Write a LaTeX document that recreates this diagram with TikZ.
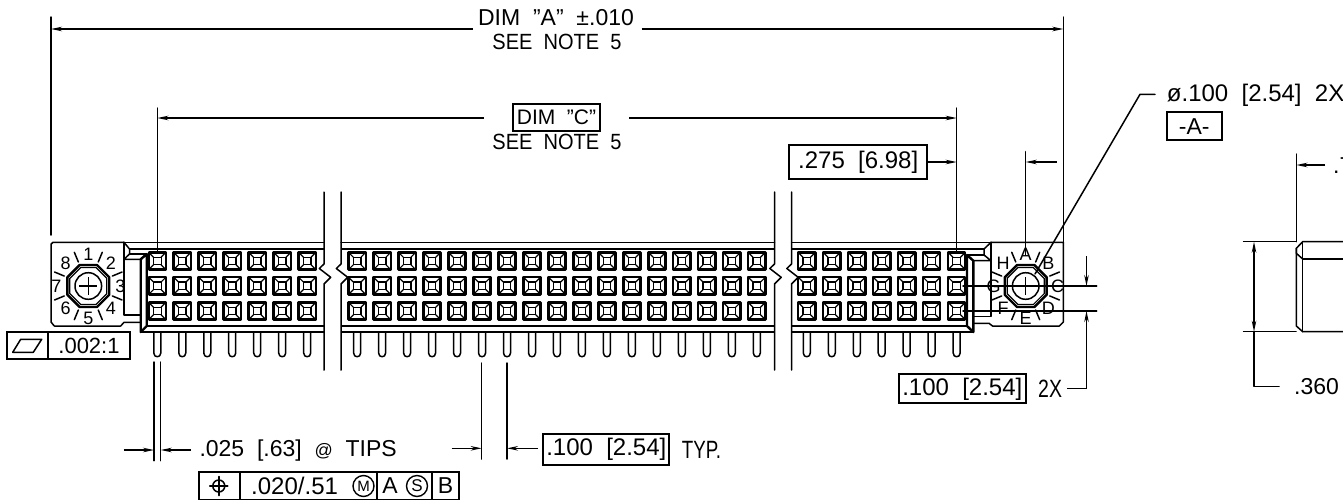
\documentclass[tikz,border=0pt]{standalone}
\usepackage{fontspec}
\setmainfont{Liberation Sans}
\usetikzlibrary{arrows.meta}
\newcommand{\fsize}[1]{\fontsize{#1}{#1}\selectfont}
\tikzset{
  line/.style={line width=1.5pt,line cap=round,line join=round},
  heavy/.style={line width=2.4pt,line join=round},
  fine/.style={line width=1.2pt},
  dimln/.style={line width=1.5pt,-{Stealth[length=11pt,width=4.5pt]}},
  dimtwo/.style={line width=1.5pt,{Stealth[length=11pt,width=4.5pt]}-{Stealth[length=11pt,width=4.5pt]}},
  txt/.style={inner sep=0pt,font=\fsize{23}},
  ring/.style={inner sep=0pt,font=\fsize{18}},
  frame/.style={draw,line width=1.8pt},
}
\newcommand{\fastener}[2]{%
  \foreach \a in {22.5,67.5,...,337.5}{
    \draw[line] ({#1+26*cos(\a)},{#2-26*sin(\a)}) -- ({#1+36.5*cos(\a)},{#2-36.5*sin(\a)});
  }
  \draw[heavy] ({#1+22.7*cos(22.5)},{#2-22.7*sin(22.5)})
    \foreach \a in {67.5,112.5,...,337.5}{ -- ({#1+22.7*cos(\a)},{#2-22.7*sin(\a)}) } -- cycle;
  \draw[fine] ({#1+20*cos(22.5)},{#2-20*sin(22.5)})
    \foreach \a in {67.5,112.5,...,337.5}{ -- ({#1+20*cos(\a)},{#2-20*sin(\a)}) } -- cycle;
  \draw[line] (#1,#2) circle[radius=13.3];
  \draw[fine] (#1-9,#2) -- (#1+9,#2) (#1,#2-9) -- (#1,#2+9);
}
\newcommand{\breakmark}[1]{%
  \draw[line] (#1,192) -- (#1,264) -- (#1-4.7,268.5) -- (#1+6.7,277.3) -- (#1,284) -- (#1,370);
}
\begin{document}
\begin{tikzpicture}[x=1pt,y=-1pt]
\useasboundingbox (0,0) rectangle (1343,501);
\clip (0,0) rectangle (1343,501);

% ---------- housing rails
\foreach \xa/\xb in {124/324,341/774.5,791.5/991}{
  \draw[line] (\xa,242.3) -- (\xb,242.3);
}
\foreach \xa/\xb in {129.5/324,341/774.5,791.5/984}{
  \draw[heavy] (\xa,249) -- (\xb,249);
}
\foreach \xa/\xb in {146.7/324,341/774.5,791.5/967}{
  \draw[heavy] (\xa,326) -- (\xb,326);
}
\foreach \xa/\xb in {140.7/324,341/774.5,791.5/973.3}{
  \draw[heavy] (\xa,332) -- (\xb,332);
}
% ---------- breaks
\breakmark{324}\breakmark{341}\breakmark{774.5}\breakmark{791.5}

% ---------- left flange
\draw[line] (124,242.3) -- (53,242.3) -- (51,244.3) -- (51,322) -- (54.3,326) -- (120.7,326) -- (124,322.3) -- (140.7,322.3);
\draw[line] (124,242.3) -- (124,315) -- (140.7,315);
\draw[line] (124,242.3) -- (129.5,249) -- (129.5,254) -- (124,259.3) -- (140.7,259.3);
\draw[line] (129.5,254) -- (147,254);
\draw[heavy] (140.7,259.3) -- (140.7,332) -- (146.7,326) -- (146.7,254) -- cycle;
\fastener{88.3}{286}
% ---------- right flange
\draw[line] (991,242.3) -- (1063.3,242.3) -- (1063.3,322) -- (1059.3,326) -- (992.5,326) -- (989,323.3) -- (973.3,323.3);
\draw[line] (991,242.3) -- (991,316.7) -- (973.3,316.7);
\draw[line] (991,242.3) -- (984,249) -- (984,255) -- (991,260.7) -- (973.3,260.7);
\draw[line] (984,255) -- (967,255);
\draw[heavy] (967,255) -- (967,326) -- (973.3,332) -- (973.3,260.7) -- cycle;
\fastener{1025.7}{286}

% ---------- sockets and pins
\foreach \c in {0,...,6,8,9,...,24,26,27,...,32}{
  \pgfmathsetmacro{\px}{157.3+24.98*\c}
  \foreach \py in {261,285.8,311}{
    \draw[heavy] (\px-8.6,\py-8.6) rectangle (\px+8.6,\py+8.6);
    \draw[fine] (\px-3.8,\py-3.8) rectangle (\px+3.8,\py+3.8);
    \draw[fine] (\px-8.6,\py-8.6) -- (\px-3.8,\py-3.8) (\px+8.6,\py-8.6) -- (\px+3.8,\py-3.8)
                (\px-8.6,\py+8.6) -- (\px-3.8,\py+3.8) (\px+8.6,\py+8.6) -- (\px+3.8,\py+3.8);
  }
  \draw[line] (\px-3.5,332) -- (\px-3.5,353) .. controls (\px-3.5,358) and (\px+3.5,358) .. (\px+3.5,353) -- (\px+3.5,332);
}

% ---------- ring labels
\foreach \t/\a in {1/90,2/45,3/0,4/-45,5/-90,6/-135,7/180,8/135}{
  \node[ring] (n\t) at ({88.3+32*cos(\a)},{286-32*sin(\a)}) {\t};
}
\foreach \t/\a in {A/90,B/45,C/0,D/-45,E/-90,F/-135,G/180,H/135}{
  \node[ring] (n\t) at ({1025.7+32*cos(\a)},{286-32*sin(\a)}) {\t};
}

% ---------- DIM A
\coordinate (aL) at (51,29); \coordinate (aR) at (1063.3,29);
\node[txt] (dimA) at (556,18) {DIM\ \ ”A”\ \ ±.010};
\node[txt,font=\fsize{22}] (noteA) at (557,42) {\scalebox{.91}[1]{SEE\ \ NOTE\ \ 5}};
\draw[line] (51,17) -- (51,235);
\draw[line] (1063.3,17) -- (1063.3,242.3);
\draw[dimln] (472.7,29) -- (aL);
\draw[dimln] (641.7,29) -- (aR);

% ---------- DIM C
\coordinate (cL) at (157.3,118); \coordinate (cR) at (956.7,118);
\node[frame,inner sep=0pt,minimum width=87pt,minimum height=27pt,font=\fsize{21}] (dimC) at (556.5,117.2) {DIM\ \ ”C”};
\node[txt,font=\fsize{22}] (noteC) at (557,141.5) {\scalebox{.91}[1]{SEE\ \ NOTE\ \ 5}};
\draw[line] (157.3,108) -- (157.3,252);
\draw[line] (956.7,108) -- (956.7,252);
\draw[dimln] (484,118) -- (cL);
\draw[dimln] (629,118) -- (cR);

% ---------- .275
\node[frame,inner sep=0pt,minimum width=138.3pt,minimum height=34pt,font=\fsize{24}] (d275) at (858.2,162) {.275\ \ [6.98]};
\coordinate (e275) at (956.7,162);
\draw[dimln] (d275.east) -- (e275);
\coordinate (e275b) at (1025.7,162);
\draw[line] (1025.7,151.7) -- (1025.7,255);
\draw[dimln] (1056.7,162) -- (e275b);

% ---------- datum leader
\node[txt,anchor=west,font=\fsize{24}] (dia) at (1166.7,95) {ø.100\ \ [2.54]\ \ 2X};
\node[frame,inner sep=0pt,minimum width=55.3pt,minimum height=28pt,font=\fsize{23}] (datA) at (1194.3,126.3) {-A-};
\draw[line] (1155,94.3) -- (1140,94.3) -- (1035,274);

% ---------- right pitch dimension
\draw[line] (963,286) -- (1096.7,286);
\draw[line] (963,311) -- (1096.7,311);
\coordinate (p1) at (1086.5,286); \coordinate (p2) at (1086.5,311);
\draw[dimln] (1086.5,256) -- (p1);
\node[frame,inner sep=0pt,minimum width=126.7pt,minimum height=29pt,font=\fsize{24}] (d100r) at (962.3,388.8) {.100\ \ [2.54]};
\node[txt,anchor=west,font=\fsize{25}] (twoX) at (1038,389) {\scalebox{.78}[1]{2X}};
\draw[dimln] (1067.3,388.7) -- (1086.5,388.7) -- (p2);

% ---------- side view
\draw[line] (1243.5,241.7) -- (1296,241.7);
\draw[line] (1243.5,331.7) -- (1296,331.7);
\draw[line] (1296.3,154) -- (1296.3,241.7);
\coordinate (s7) at (1296.3,165);
\draw[dimln] (1325,165) -- (s7);
\node[txt,anchor=west] (t7) at (1333,166) {.7};
\coordinate (v1) at (1254,241.7); \coordinate (v2) at (1254,331.7);
\draw[dimtwo] (v1) -- (v2);
\draw[line] (1254,331.7) -- (1254,386.7) -- (1279,386.7);
\node[txt,anchor=west] (t360) at (1294,386.5) {.360};
\draw[line] (1343,241.7) -- (1302.7,241.7) -- (1296.3,248.3) -- (1296.3,253.3) -- (1302.7,259);
\draw[line] (1296.3,248.3) -- (1296.3,326) -- (1302.7,331.7) -- (1343,331.7);
\draw[line] (1302.7,241.7) -- (1302.7,331.7);
\draw[line] (1302.7,259) -- (1343,259);

% ---------- flatness frame
\draw[frame] (6.7,331.7) rectangle (130,359.3);
\draw[frame] (47.7,331.7) -- (47.7,359.3);
\draw[line] (12.7,352.3) -- (33.3,352.3) -- (41.7,339.3) -- (20.7,339.3) -- cycle;
\node[txt,font=\fsize{22}] (flat) at (89,345.7) {.002:1};

% ---------- pin width
\draw[line] (154,362) -- (154,460.7);
\draw[line] (160.7,362) -- (160.7,460.7);
\coordinate (w1) at (154,450); \coordinate (w2) at (160.7,450);
\draw[dimln] (123.7,450) -- (w1);
\draw[dimln] (191,450) -- (w2);
\node[txt,anchor=west] (t025) at (199.3,451) {.025\ \ [.63]\ \ {\fsize{18}@}\ \ TIPS};

% ---------- pitch
\draw[line] (481.7,363) -- (481.7,459);
\draw[line] (507,363) -- (507,459);
\coordinate (q1) at (481.7,448.3); \coordinate (q2) at (507,448.3);
\draw[dimln] (451.7,448.3) -- (q1);
\draw[dimln] (538,448.3) -- (q2);
\node[frame,inner sep=0pt,minimum width=126pt,minimum height=30.7pt,font=\fsize{24}] (d100b) at (606.3,449.7) {.100\ \ [2.54]};
\node[txt,anchor=west,font=\fsize{25}] (typ) at (681.7,449.5) {\scalebox{.75}[1]{TYP.}};

% ---------- position frame
\draw[frame] (199.3,472) rectangle (459,499.5);
\draw[frame] (240,472) -- (240,499.5);
\draw[frame] (377.3,472) -- (377.3,499.5);
\draw[frame] (432,472) -- (432,499.5);
\draw[line] (218.8,486) circle[radius=6];
\draw[line] (209.8,486) -- (227.8,486) (218.8,476.5) -- (218.8,495.5);
\node[txt,anchor=west,font=\fsize{24}] (tol) at (251,486) {.020/.51};
\node[draw,circle,line width=1.4pt,minimum size=21pt,inner sep=0pt,font=\fsize{15}] (cM) at (363.5,486) {M};
\node[txt] (tA) at (390,486) {A};
\node[draw,circle,line width=1.4pt,minimum size=21pt,inner sep=0pt,font=\fsize{17}] (cS) at (417,486) {S};
\node[txt] (tB) at (445.5,486) {B};
\end{tikzpicture}
\end{document}
